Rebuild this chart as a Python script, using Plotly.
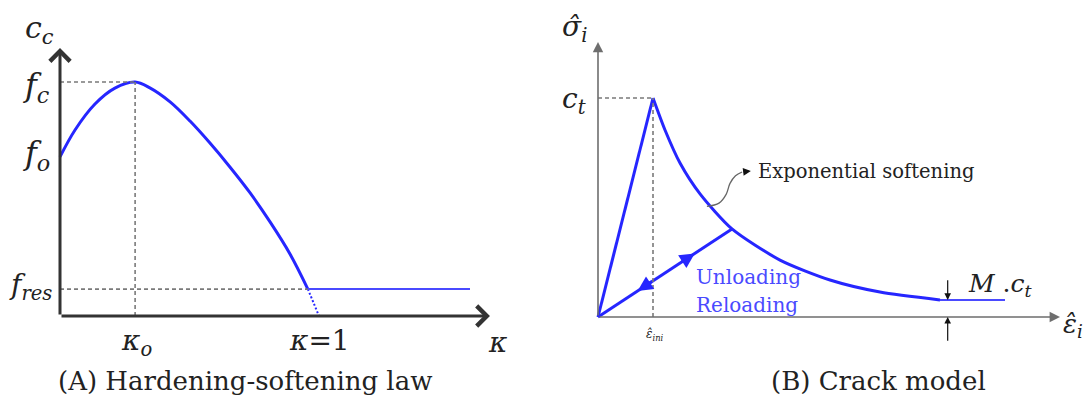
import plotly.graph_objects as go

W, H = 1090, 400

# ---- (A) Hardening-softening law: c_c versus kappa ----
kappa_curve = [0.0, 0.058, 0.135, 0.212, 0.29, 0.347, 0.425, 0.502, 0.579, 0.656, 0.734, 0.811, 0.888, 0.957]
cc_curve = [0.68, 0.795, 0.906, 0.974, 1.0, 0.975, 0.915, 0.833, 0.739, 0.637, 0.526, 0.402, 0.265, 0.115]
kappa_tail = [0.957, 0.98, 1.0]
cc_tail = [0.115, 0.055, 0.0]
kappa_res = [0.957, 1.583]
cc_res = [0.115, 0.115]
kappa_o, f_c, f_o, f_res = 0.29, 1.0, 0.68, 0.115
kappa_axis_end, cc_axis_end = 1.66, 1.145

# ---- (B) Crack model: sigma_i versus eps_i (eps in units of eps_ini, sigma in units of c_t) ----
eps_load = [0.0, 1.0]
sig_load = [0.0, 1.0]
eps_soft = [1.0, 1.218, 1.491, 1.855, 2.436, 3.309, 4.218, 5.127, 6.218]
sig_soft = [1.0, 0.854, 0.703, 0.562, 0.402, 0.260, 0.169, 0.114, 0.078]
eps_resid = [6.218, 7.4]
sig_resid = [0.078, 0.078]
eps_unload = [0.0, 2.436]
sig_unload = [0.0, 0.402]
eps_curl = [1.98, 2.2, 2.33, 2.4, 2.5, 2.62]
sig_curl = [0.505, 0.52, 0.56, 0.61, 0.645, 0.662]
eps_axis_end, sig_axis_end = 8.4, 1.256
M_ratio = 0.078

BLUE = "#2626ff"
BLUE_LIGHT = "#4a4aff"
SERIF = "DejaVu Serif"


def axis_range(p0, p1, dom_lo, dom_hi, total, flip=False):
    """Axis range so that value 0 sits at pixel p0 and value 1 at pixel p1."""
    scale = (p1 - p0)
    lo_px, hi_px = dom_lo * total, dom_hi * total
    if flip:
        # pixel counted from the top, axis values grow upward
        lo_px, hi_px = total - lo_px, total - hi_px
    return [(lo_px - p0) / scale, (hi_px - p0) / scale]


fig = go.Figure()

# panel A traces
fig.add_trace(go.Scatter(x=kappa_curve, y=cc_curve, mode="lines",
                         line=dict(color=BLUE, width=3, shape="spline", smoothing=1.0),
                         xaxis="x", yaxis="y"))
fig.add_trace(go.Scatter(x=kappa_tail, y=cc_tail, mode="lines",
                         line=dict(color=BLUE, width=2, dash="2px,2px"),
                         xaxis="x", yaxis="y"))
fig.add_trace(go.Scatter(x=kappa_res, y=cc_res, mode="lines",
                         line=dict(color=BLUE_LIGHT, width=2),
                         xaxis="x", yaxis="y"))

# panel B traces
fig.add_trace(go.Scatter(x=eps_load, y=sig_load, mode="lines",
                         line=dict(color=BLUE, width=3), xaxis="x2", yaxis="y2"))
fig.add_trace(go.Scatter(x=eps_soft, y=sig_soft, mode="lines",
                         line=dict(color=BLUE, width=3, shape="spline", smoothing=0.7),
                         xaxis="x2", yaxis="y2"))
fig.add_trace(go.Scatter(x=eps_resid, y=sig_resid, mode="lines",
                         line=dict(color=BLUE_LIGHT, width=2), xaxis="x2", yaxis="y2"))
fig.add_trace(go.Scatter(x=eps_unload, y=sig_unload, mode="lines",
                         line=dict(color=BLUE, width=3), xaxis="x2", yaxis="y2"))
fig.add_trace(go.Scatter(x=eps_curl, y=sig_curl, mode="lines",
                         line=dict(color="#666666", width=1.3, shape="spline"),
                         xaxis="x2", yaxis="y2"))

shapes = []
dash_style = dict(color="#7a7a7a", width=1.6, dash="4px,3px")
# guide lines panel A
shapes.append(dict(type="line", xref="x", yref="y", x0=0, x1=kappa_o, y0=f_c, y1=f_c, line=dash_style))
shapes.append(dict(type="line", xref="x", yref="y", x0=kappa_o, x1=kappa_o, y0=0, y1=f_c, line=dash_style))
shapes.append(dict(type="line", xref="x", yref="y", x0=0, x1=kappa_res[0], y0=f_res, y1=f_res, line=dash_style))
# guide lines panel B
shapes.append(dict(type="line", xref="x2", yref="y2", x0=0, x1=1, y0=1, y1=1, line=dash_style))
shapes.append(dict(type="line", xref="x2", yref="y2", x0=1, x1=1, y0=0, y1=1, line=dash_style))

ann = []


def arrow(xr, yr, x0, y0, x1, y1, color, width, head, size):
    ann.append(dict(xref=xr, yref=yr, axref=xr, ayref=yr, x=x1, y=y1, ax=x0, ay=y0,
                    text="", showarrow=True, arrowhead=head, arrowsize=size,
                    arrowwidth=width, arrowcolor=color, standoff=0, startstandoff=0))


# axes of panel A (open chevron heads)
arrow("x", "y", 0, 0, kappa_axis_end, 0, "#333333", 3, 4, 1.3)
arrow("x", "y", 0, 0, 0, cc_axis_end, "#333333", 3, 4, 1.3)
# axes of panel B (filled heads)
arrow("x2", "y2", 0, 0, eps_axis_end, 0, "#6e6e6e", 1.6, 2, 1.3)
arrow("x2", "y2", 0, 0, 0, sig_axis_end, "#6e6e6e", 1.6, 2, 1.3)
# unloading / reloading arrowheads
slope = sig_unload[1] / eps_unload[1]
arrow("x2", "y2", 1.50, 1.50 * slope, 1.76, 1.76 * slope, BLUE, 3, 2, 1.0)
arrow("x2", "y2", 1.00, 1.00 * slope, 0.72, 0.72 * slope, BLUE, 3, 2, 1.0)
# pointer of the softening label
arrow("x2", "y2", eps_curl[-1], sig_curl[-1], 2.78, 0.667, "#111111", 1.3, 2, 1.2)
# M.c_t dimension arrows
arrow("x2", "y2", eps_resid[0] + 0.14, 0.175, eps_resid[0] + 0.14, M_ratio, "#111111", 1.2, 2, 1.1)
arrow("x2", "y2", eps_resid[0] + 0.14, -0.115, eps_resid[0] + 0.14, 0.0, "#111111", 1.2, 2, 1.1)


def label(px, py, text, size, color="#222222", anchor="center"):
    ann.append(dict(xref="paper", yref="paper", x=px / W, y=1 - py / H, text=text,
                    showarrow=False, xanchor=anchor, yanchor="middle",
                    font=dict(family=SERIF, size=size, color=color)))


label(39, 30, "<i>c</i><sub><i>c</i></sub>", 30)
label(36, 87, "<i>f</i><sub><i>c</i></sub>", 32)
label(36, 155, "<i>f</i><sub><i>o</i></sub>", 32)
label(30, 286, "<i>f</i><sub><i>res</i></sub>", 28)
label(136, 342, "<i>κ</i><sub><i>o</i></sub>", 28)
label(319, 340, "<i>κ</i>=1", 28)
label(497, 342, "<i>κ</i>", 28)
label(245, 381, "(A) Hardening-softening law", 26)

label(574, 28, "<i>σ\u0302</i><sub><i>i</i></sub>", 28)
label(574, 101, "<i>c</i><sub><i>t</i></sub>", 28)
label(655, 335, "<i>ε\u0302</i><sub><i>ini</i></sub>", 12)
label(1073, 325, "<i>ε\u0302</i><sub><i>i</i></sub>", 26)
label(966, 285, "<i>M</i> .<i>c</i><sub><i>t</i></sub>", 25, anchor="left")
label(756, 172, "Exponential softening", 19.5, anchor="left")
label(694, 277, "Unloading", 20, color=BLUE_LIGHT, anchor="left")
label(694, 305, "Reloading", 20, color=BLUE_LIGHT, anchor="left")
label(878, 381, "(B) Crack model", 26)

hidden = dict(visible=False, showgrid=False, zeroline=False, fixedrange=True)

fig.update_layout(
    width=W, height=H, margin=dict(l=0, r=0, t=0, b=0),
    paper_bgcolor="white", plot_bgcolor="white", showlegend=False,
    xaxis=dict(hidden, domain=[0, 0.5], range=axis_range(60, 319, 0, 0.5, W), anchor="y"),
    yaxis=dict(hidden, domain=[0, 1], range=axis_range(316, 82, 0, 1, H, flip=True), anchor="x"),
    xaxis2=dict(hidden, domain=[0.5, 1], range=axis_range(598, 653, 0.5, 1, W), anchor="y2"),
    yaxis2=dict(hidden, domain=[0, 1], range=axis_range(317, 98, 0, 1, H, flip=True), anchor="x2"),
    shapes=shapes, annotations=ann,
)

fig.write_html("out.html")
